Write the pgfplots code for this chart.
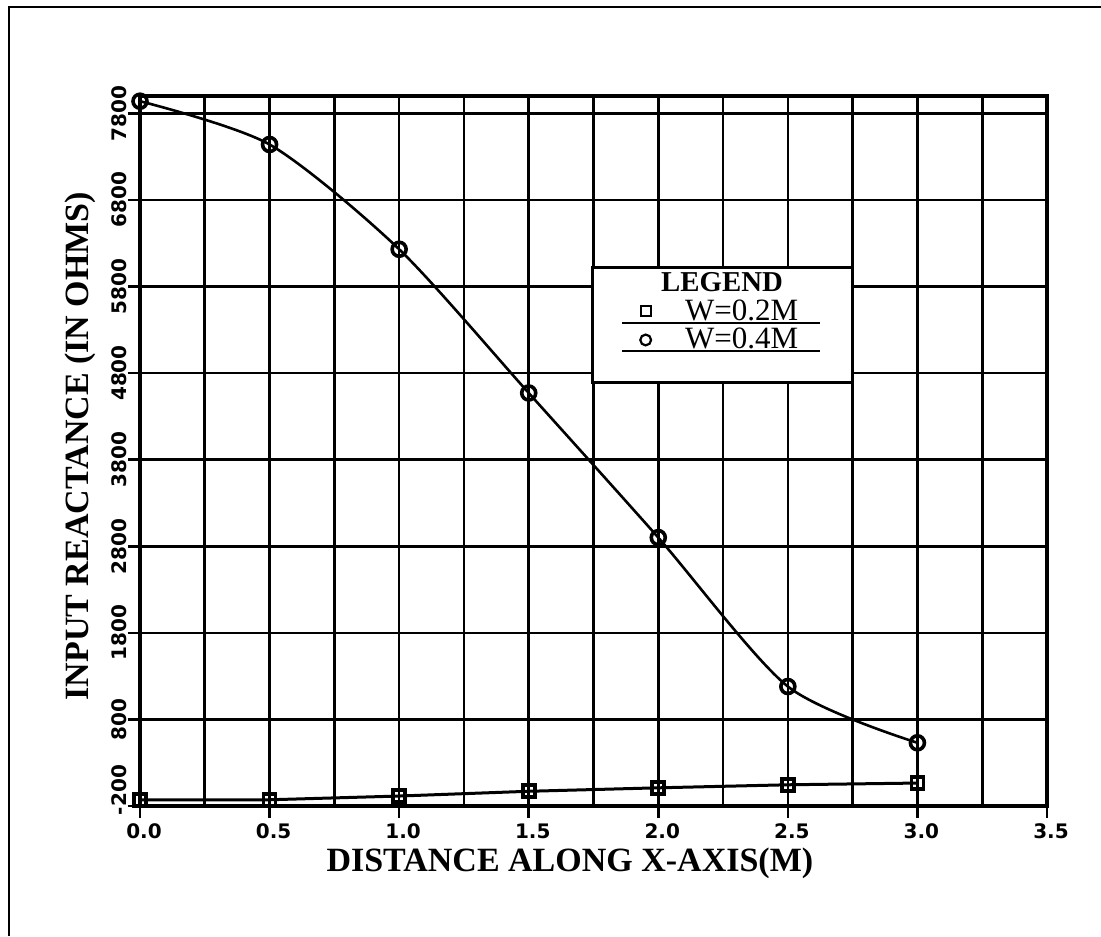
\documentclass[border=0pt]{standalone}
\usepackage{fontspec}
\setmainfont{Liberation Serif}
\newfontfamily\tickfont{DejaVu Sans}
\usepackage{pgfplots}
\pgfplotsset{compat=1.18}
\begin{document}
\begin{tikzpicture}[x=1pt,y=1pt]
\useasboundingbox (-70,-65) rectangle (480.5,403);
\draw[line width=1pt] (-65.5,-65) -- (-65.5,399.5) -- (480.5,399.5);
\begin{axis}[
  at={(0,0)}, anchor=south west, scale only axis,
  width=453.5pt, height=355pt,
  xmin=0, xmax=3.5, ymin=-200, ymax=8000,
  clip=false,
  xtick pos=bottom, ytick pos=left,
  xtick={0,0.5,1,1.5,2,2.5,3,3.5},
  xticklabels={0.0,0.5,1.0,1.5,2.0,2.5,3.0,3.5},
  minor xtick={0.25,0.75,1.25,1.75,2.25,2.75,3.25},
  ytick={-200,800,1800,2800,3800,4800,5800,6800,7800},
  yticklabels={\hspace*{16pt}-200,800,1800,2800,3800,4800,5800,6800,7800},
  grid=both,
  major grid style={line width=1.3pt, black},
  minor grid style={line width=1.3pt, black},
  tick align=outside, major tick length=6pt, minor tick length=0pt,
  tick style={line width=1.3pt, black},
  axis line style={line width=2.2pt},
  xticklabel style={font=\tickfont\bfseries\fontsize{10}{10}\selectfont, xshift=2pt},
  yticklabel style={font=\tickfont\bfseries\fontsize{10}{10}\selectfont, rotate=90, anchor=south},
  xticklabel shift=-0.5pt,
  yticklabel shift=-3pt,
  xlabel={DISTANCE ALONG X-AXIS(M)},
  ylabel={INPUT REACTANCE (IN OHMS)},
  label style={font=\bfseries\fontsize{17}{17}\selectfont},
  xlabel style={at={(axis description cs:0.474,-0.081)}, anchor=center},
  ylabel style={at={(axis description cs:-0.066,0.507)}, anchor=center, rotate=0},
  legend style={at={(axis cs:1.929,5700)}, anchor=north west, draw=none, fill=none,
    inner sep=0pt, row sep=-1.5pt, font=\fontsize{15.5}{16}\selectfont,
    legend cell align=left,
    /tikz/every odd column/.append style={column sep=15pt}},
]
\addplot[black, line width=1.3pt, smooth, tension=0.45, mark=o, mark size=3.5pt,
  mark options={line width=1.8pt, fill=white}, forget plot]
  coordinates {(0,7940) (0.5,7440) (1.0,6230) (1.5,4570) (2.0,2900) (2.5,1180) (3.0,530)};
\addplot[black, line width=1.5pt, mark=square, mark size=3pt,
  mark options={line width=1.8pt, fill=white}, forget plot]
  coordinates {(0,-130) (0.5,-128) (1.0,-85) (1.5,-30) (2.0,10) (2.5,45) (3.0,65)};
\draw[line width=1.5pt, fill=white] (axis cs:1.748,4687) rectangle (axis cs:2.748,6014);
\node[inner sep=0pt, font=\bfseries\fontsize{14.4}{15}\selectfont] at (axis cs:2.246,5850) {LEGEND};
\draw[line width=1.3pt] (axis cs:1.860,5379) -- (axis cs:2.624,5379);
\draw[line width=1.3pt] (axis cs:1.860,5056) -- (axis cs:2.624,5056);
\addlegendimage{only marks, mark=square, mark size=2.5pt, mark options={line width=1.1pt}}
\addlegendentry{W=0.2M}
\addlegendimage{only marks, mark=o, mark size=2.7pt, mark options={line width=1.1pt}}
\addlegendentry{W=0.4M}
\end{axis}
\end{tikzpicture}
\end{document}
